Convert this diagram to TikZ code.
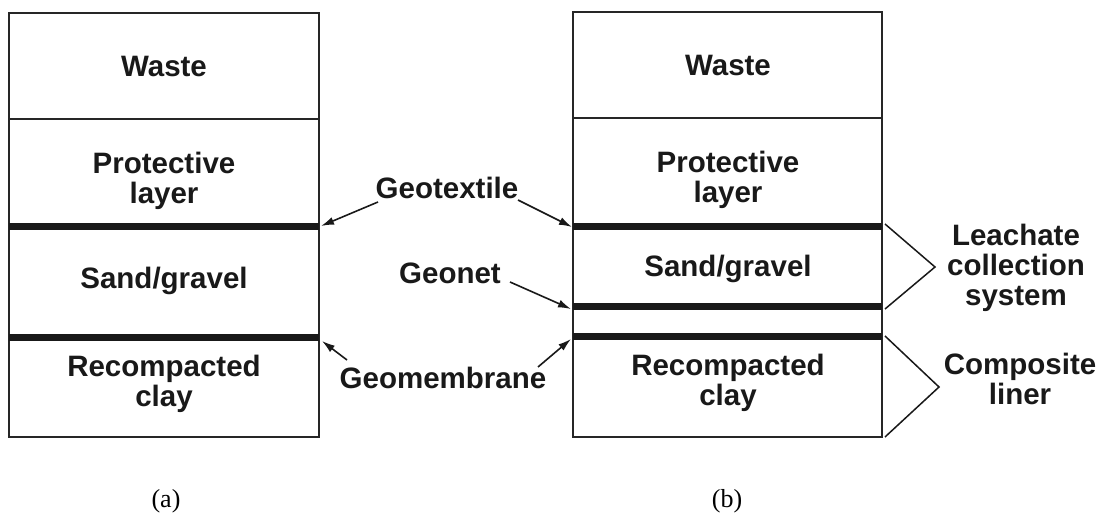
\documentclass[tikz,border=0pt]{standalone}
\usepackage{fontspec}
\setmainfont{Liberation Sans}
\newfontfamily\capfont{Liberation Serif}
\usetikzlibrary{arrows.meta}
\begin{document}
\begin{tikzpicture}[x=1pt,y=-1pt,
  lbl/.style={font=\fontsize{29.5}{30}\selectfont\bfseries, align=center, inner sep=0pt, text=black!90},
  thinline/.style={line width=2pt, black!85},
  thickline/.style={line width=7pt, black!90},
  pointer/.style={line width=1.6pt, black!90, -{Latex[length=13pt,width=8pt]}},
  brace/.style={line width=1.5pt, black!90, line join=miter},
  caption/.style={font=\capfont\fontsize{26}{28}\selectfont, inner sep=0pt}]
\useasboundingbox (0,0) rectangle (1108,526);
\fill[white] (0,0) rectangle (1108,526);
% ---- left column (a)
\coordinate (aTL) at (9,13);
\coordinate (aBR) at (319,437);
\draw[thinline] (aTL) rectangle (aBR);
\draw[thinline] (9,119) -- (319,119);
\draw[thickline] (9,227) -- (319,227);
\draw[thickline] (9,338) -- (319,338);
\node[lbl] (aWaste) at (164,67) {Waste};
\node[lbl] (aProt) at (164,181) {Protective\\layer};
\node[lbl] (aSand) at (164,281) {Sand/gravel};
\node[lbl] (aClay) at (164,384) {Recompacted\\clay};
% ---- right column (b)
\draw[thinline] (573,12) rectangle (882,437);
\draw[thinline] (573,118) -- (882,118);
\draw[thickline] (573,227) -- (882,227);
\draw[thickline] (573,307) -- (882,307);
\draw[thickline] (573,337) -- (882,337);
\node[lbl] (bWaste) at (728,66) {Waste};
\node[lbl] (bProt) at (728,180) {Protective\\layer};
\node[lbl] (bSand) at (728,269) {Sand/gravel};
\node[lbl] (bClay) at (728,383) {Recompacted\\clay};
% ---- middle labels
\node[lbl] (geotex) at (447,188) {Geotextile};
\node[lbl] (geonet) at (450,273) {Geonet};
\node[lbl] (geomem) at (443,378) {Geomembrane};
\coordinate (aGT) at (321,226);
\coordinate (bGT) at (572,227);
\coordinate (bGN) at (571,309);
\coordinate (aGM) at (322,341);
\coordinate (bGM) at (571,339);
\draw[pointer] (378,202) -- (aGT);
\draw[pointer] (518,200) -- (bGT);
\draw[pointer] (510,282) -- (bGN);
\draw[pointer] (347,360) -- (aGM);
\draw[pointer] (538,367) -- (bGM);
% ---- right braces
\coordinate (lcA) at (885,224);
\coordinate (lcT) at (935,267);
\coordinate (lcB) at (885,309);
\coordinate (clA) at (885,336);
\coordinate (clT) at (939,387);
\coordinate (clB) at (885,437);
\draw[brace] (lcA) -- (lcT) -- (lcB);
\draw[brace] (clA) -- (clT) -- (clB);
\node[lbl] (lcs) at (1016,268) {Leachate\\collection\\system};
\node[lbl] (comp) at (1020,379) {Composite\\liner};
% ---- captions
\node[caption] (capa) at (166,501) {(a)};
\node[caption] (capb) at (727,501) {(b)};
\end{tikzpicture}
\end{document}
